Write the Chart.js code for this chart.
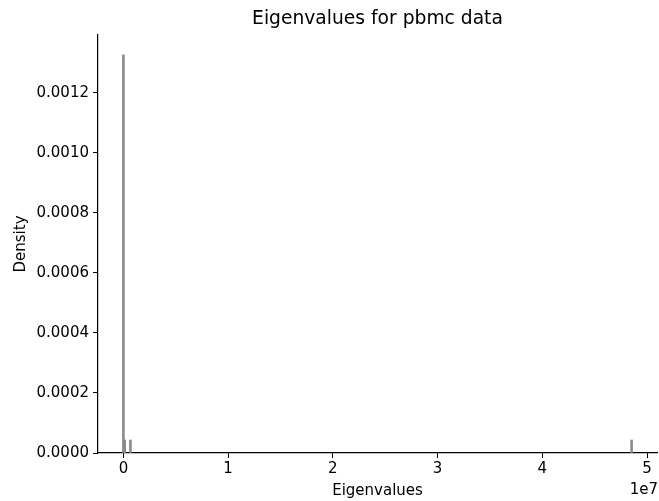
<!DOCTYPE html>
<html>
<head>
<meta charset="utf-8">
<script src="https://cdn.jsdelivr.net/npm/chart.js@4"></script>
<style>
  html, body { margin: 0; padding: 0; background: #fff; }
  #wrap { width: 659px; height: 501px; }
</style>
</head>
<body>
<div id="wrap"><canvas id="eigChart"></canvas></div>
<script>
// histogram bins (centre of each non-empty bin) and density values
const binCenters = [0, 120000, 670000, 48520000];
const densities = [0.001327, 0.0000433, 0.0000433, 0.0000433];
const xTicks = [0, 1e7, 2e7, 3e7, 4e7, 5e7];
const yTicks = [0, 0.0002, 0.0004, 0.0006, 0.0008, 0.0010, 0.0012];

const FONT = 'DejaVu Sans';

// title centred over the plot area, plus the "1e7" offset label
const extraText = {
  id: 'extraText',
  afterDraw(chart) {
    const ctx = chart.ctx;
    const area = chart.chartArea;
    ctx.save();
    ctx.fillStyle = '#000';
    ctx.textBaseline = 'middle';
    ctx.font = '18.7px "' + FONT + '"';
    ctx.textAlign = 'center';
    ctx.fillText('Eigenvalues for pbmc data', (area.left + area.right) / 2, 19);
    ctx.font = '15px "' + FONT + '"';
    ctx.textAlign = 'right';
    ctx.fillText('1e7', area.right + 1, 490);
    ctx.restore();
  }
};

Chart.defaults.font.family = FONT;
Chart.defaults.font.size = 15;
Chart.defaults.color = '#000';

const eigChart = new Chart(document.getElementById('eigChart'), {
  type: 'bar',
  data: {
    datasets: [{
      label: 'Eigenvalues',
      data: binCenters.map((x, i) => ({ x: x, y: densities[i] })),
      backgroundColor: '#8c8c8c',
      borderWidth: 0,
      barThickness: 2
    }]
  },
  options: {
    responsive: true,
    maintainAspectRatio: false,
    animation: false,
    layout: { padding: { left: 0, right: 2, top: 35, bottom: 0 } },
    plugins: {
      legend: { display: false },
      tooltip: { enabled: false },
      title: { display: false }
    },
    scales: {
      x: {
        type: 'linear',
        offset: false,
        min: -2426000,
        max: 50946000,
        afterBuildTicks: s => { s.ticks = xTicks.map(v => ({ value: v })); },
        afterFit: s => { s.height = 48; },
        ticks: {
          padding: 2,
          maxRotation: 0,
          callback: v => String(Math.round(v / 1e7))
        },
        grid: { offset: false, drawOnChartArea: false, drawTicks: true, tickLength: 5, color: '#000' },
        border: { display: true, color: '#000', width: 1.2 },
        title: { display: true, text: 'Eigenvalues', padding: { top: 0, bottom: 1 } }
      },
      y: {
        min: 0,
        max: 0.001393,
        afterBuildTicks: s => { s.ticks = yTicks.map(v => ({ value: v })); },
        afterFit: s => { s.width = 98; },
        ticks: {
          padding: 4,
          callback: v => v.toFixed(4)
        },
        grid: { drawOnChartArea: false, drawTicks: true, tickLength: 5, color: '#000' },
        border: { display: true, color: '#000', width: 1.2 },
        title: { display: true, text: 'Density', padding: { top: 12, bottom: 0 } }
      }
    }
  },
  plugins: [extraText]
});
</script>
</body>
</html>
